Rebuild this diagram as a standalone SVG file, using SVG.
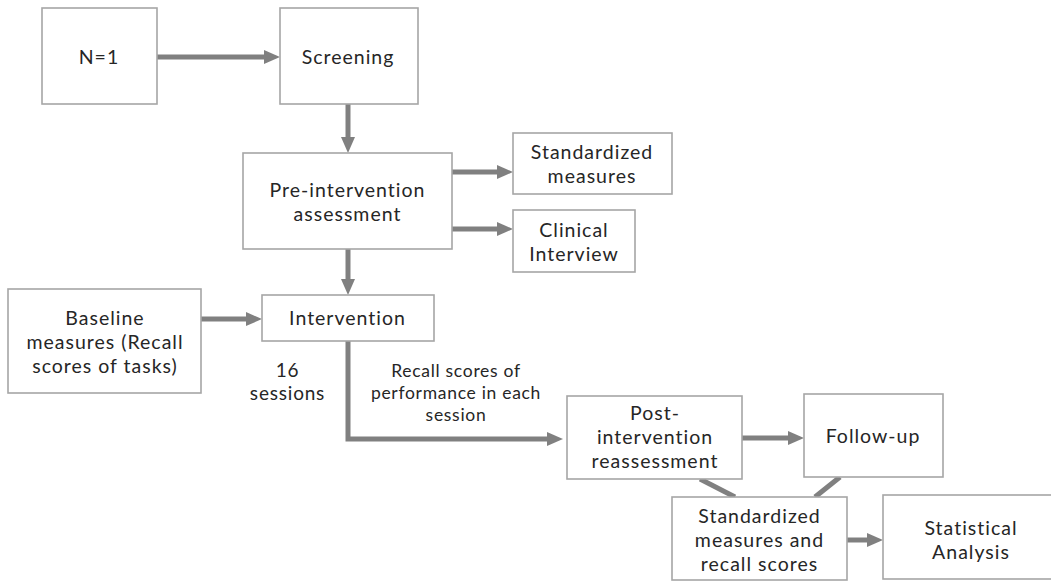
<svg xmlns="http://www.w3.org/2000/svg" width="1051" height="581" viewBox="0 0 1051 581">
<defs>
<style>
.box{fill:#ffffff;stroke:#a6a6a6;stroke-width:1.6}
.t{font-family:Lato,"Open Sans","Liberation Sans",sans-serif;font-size:19.5px;letter-spacing:1px;fill:#262626;text-anchor:middle}
.s{font-family:Lato,"Open Sans","Liberation Sans",sans-serif;font-size:19px;letter-spacing:0.8px;fill:#262626;text-anchor:middle}
.r{font-family:Lato,"Open Sans","Liberation Sans",sans-serif;font-size:17.5px;letter-spacing:0.7px;fill:#262626;text-anchor:middle}
.c{fill:none;stroke:#808080;stroke-width:5}
.a{marker-end:url(#ah)}
</style>
<marker id="ah" markerUnits="userSpaceOnUse" markerWidth="16" markerHeight="14" refX="8" refY="7" orient="auto">
<path d="M0,0 L16,7 L0,14 Z" fill="#808080"/>
</marker>
</defs>
<rect width="1051" height="581" fill="#ffffff"/>
<g id="connectors">
<path class="c a" d="M157,57 H272"/>
<path class="c a" d="M348,104 V145"/>
<path class="c a" d="M452,172 H505"/>
<path class="c a" d="M452,229 H505"/>
<path class="c a" d="M348,249 V287"/>
<path class="c a" d="M201,319 H254"/>
<path class="c a" d="M348,341 V439 H555"/>
<path class="c a" d="M742,438 H796"/>
<path class="c a" d="M847,540 H875"/>
<path class="c" d="M700,479 L735,497"/>
<path class="c" d="M840,477 L815,497"/>
</g>
<g id="n1"><rect class="box" x="42" y="8" width="115" height="96"/><text class="t" x="99" y="64">N=1</text></g>
<g id="screening"><rect class="box" x="280" y="8" width="138" height="96"/><text class="t" x="348" y="64">Screening</text></g>
<g id="pre"><rect class="box" x="243" y="153" width="209" height="96"/><text class="t" x="347.5" y="197">Pre-intervention</text><text class="t" x="347.5" y="221">assessment</text></g>
<g id="std"><rect class="box" x="513" y="133" width="159" height="61"/><text class="t" x="592" y="159">Standardized</text><text class="t" x="592" y="183">measures</text></g>
<g id="clinical"><rect class="box" x="513" y="210" width="122" height="62"/><text class="t" x="574" y="237">Clinical</text><text class="t" x="574" y="261">Interview</text></g>
<g id="baseline"><rect class="box" x="8" y="289" width="193" height="104"/><text class="t" x="105" y="325">Baseline</text><text class="t" x="105" y="349">measures (Recall</text><text class="t" x="105" y="373">scores of tasks)</text></g>
<g id="intervention"><rect class="box" x="262" y="295" width="172" height="46"/><text class="t" x="347.5" y="325">Intervention</text></g>
<g id="sessions-label"><text class="s" x="287.5" y="377">16</text><text class="s" x="287.5" y="400">sessions</text></g>
<g id="recall-label"><text class="r" x="456" y="377">Recall scores of</text><text class="r" x="456" y="399">performance in each</text><text class="r" x="456" y="421">session</text></g>
<g id="post"><rect class="box" x="567" y="396" width="175" height="83"/><text class="t" x="655" y="420">Post-</text><text class="t" x="655" y="444">intervention</text><text class="t" x="655" y="468">reassessment</text></g>
<g id="followup"><rect class="box" x="804" y="394" width="139" height="83"/><text class="t" x="873" y="443">Follow-up</text></g>
<g id="std2"><rect class="box" x="672" y="497" width="175" height="83"/><text class="t" x="759.5" y="523">Standardized</text><text class="t" x="759.5" y="547">measures and</text><text class="t" x="759.5" y="571">recall scores</text></g>
<g id="stats"><rect class="box" x="883" y="495" width="200" height="84"/><text class="t" x="971" y="535">Statistical</text><text class="t" x="971" y="559">Analysis</text></g>
</svg>
